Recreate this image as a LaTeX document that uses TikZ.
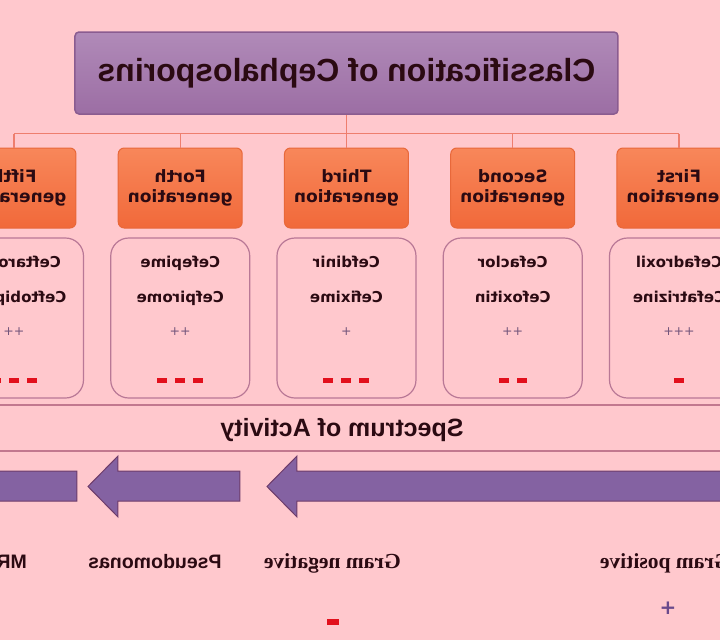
\documentclass[tikz,border=0pt]{standalone}
\usepackage{fontspec}
\setmainfont{Liberation Sans}
\newfontfamily\dejavu{DejaVu Sans}
\newfontfamily\timesface{Liberation Serif}
\usetikzlibrary{calc}

\definecolor{bgpink}{HTML}{FFC8CD}
\definecolor{titletop}{HTML}{B08AB8}
\definecolor{titlebot}{HTML}{9C6EA4}
\definecolor{titleline}{HTML}{8A5C90}
\definecolor{gentop}{HTML}{F8875A}
\definecolor{genbot}{HTML}{F1693A}
\definecolor{genline}{HTML}{E8683A}
\definecolor{linkline}{HTML}{EE7E6E}
\definecolor{boxline}{HTML}{B97896}
\definecolor{bandline}{HTML}{C2788F}
\definecolor{arrowfill}{HTML}{8462A2}
\definecolor{arrowline}{HTML}{6E3C6A}
\definecolor{inktext}{HTML}{2B0A12}
\definecolor{plusink}{HTML}{74567C}
\definecolor{bigplus}{HTML}{6A4A8C}
\definecolor{minusred}{HTML}{E2101C}

\newcommand\minusbar{\textcolor{minusred}{\rule{10pt}{5pt}}}
\newcommand\minusrow[1]{\ifcase#1\or\minusbar\or\minusbar\hspace{8pt}\minusbar\else\minusbar\hspace{8pt}\minusbar\hspace{8pt}\minusbar\fi}

\tikzset{
  titlebox/.style={draw=titleline, line width=1.5pt, top color=titletop, bottom color=titlebot,
    rounded corners=4pt, minimum width=543, minimum height=82, text=inktext,
    font=\bfseries\fontsize{32}{36}\selectfont},
  genbox/.style={draw=genline, line width=1pt, top color=gentop, bottom color=genbot,
    rounded corners=6pt, minimum width=124, minimum height=80, align=center, text=inktext,
    font=\dejavu\bfseries\fontsize{17}{20}\selectfont},
  drugbox/.style={draw=boxline, line width=1.2pt, fill=bgpink, rounded corners=18pt,
    minimum width=139, minimum height=160},
  drugname/.style={anchor=base, text=inktext, font=\dejavu\bfseries\fontsize{15}{18}\selectfont},
  plusmark/.style={text=plusink, font=\dejavu\fontsize{12.5}{14}\selectfont},
  link/.style={draw=linkline, line width=1.3pt},
  band/.style={draw=bandline, line width=2pt},
  bandtext/.style={text=inktext, font=\bfseries\fontsize{25}{28}\selectfont},
  blockarrow/.style={fill=arrowfill, draw=arrowline, line width=1pt},
  gramtext/.style={text=inktext, inner xsep=0pt, font=\timesface\bfseries\fontsize{21.5}{24}\selectfont},
  groupname/.style={text=inktext, inner xsep=0pt, font=\bfseries\fontsize{19.5}{22}\selectfont}
}

\begin{document}
\begin{tikzpicture}[x=1pt, y=-1pt, xscale=-1, transform shape]
  \useasboundingbox (0,0) rectangle (720,640);
  \fill[bgpink] (0,0) rectangle (720,640);
  \clip (0,0) rectangle (720,640);

  % heading and the five generations
  \node[titlebox] (head) at (373.5,73) {Classification of Cephalosporins};
  \foreach \gname/\drugA/\drugB/\plus/\minus [count=\i] in
     {First/Cefadroxil/Cefatrizine/{+++}/1, Second/Cefaclor/Cefoxitin/{++}/2,
      Third/Cefdinir/Cefixime/{+}/3, Forth/Cefepime/Cefpirome/{++}/3,
      Fifth/Ceftaroline/Ceftobiprole/{++}/3}
  {
    \pgfmathsetmacro\gx{41+166.25*(\i-1)}
    \node[genbox] (gen\i) at (\gx,188) {\gname\\generation};
    \node[drugbox] (drugs\i) at (\gx,318) {};
    \node[drugname] (drugA\i) at (\gx,267) {\drugA};
    \node[drugname] (drugB\i) at (\gx,302) {\drugB};
    \node[plusmark] (plus\i) at (\gx,332) {\plus};
    \node (minus\i) at (\gx,380) {\minusrow{\minus}};
  }

  \draw[link] (head.south) -- ++(0,19) coordinate (hub);
  \draw[link] (gen1.north |- hub) -- (gen5.north |- hub);
  \foreach \i in {1,...,5}
    \draw[link] (gen\i.north |- hub) -- (gen\i.north);

  % spectrum band
  \draw[band] (0,405) -- (720,405);
  \draw[band] (0,451) -- (720,451);
  \node[bandtext] (spectrum) at (378,430) {Spectrum of Activity};

  \foreach \tail/\base/\tip in {-20/423/453, 480/602/632, 643/765/795}
    \draw[blockarrow] (\tail,471) -- (\base,471) -- (\base,456) -- (\tip,486.5)
      -- (\base,517) -- (\base,501) -- (\tail,501) -- cycle;

  % organisms
  \node[gramtext, anchor=base east] (gpos) at (120,568) {Gram positive};
  \node[gramtext, anchor=base] (gneg) at (387.5,568) {Gram negative};
  \node[groupname, anchor=base] (pseudo) at (565,568) {Pseudomonas};
  \node[groupname, anchor=base west] (mrsa) at (693,568) {MRSA};
  \node[text=bigplus, font=\dejavu\bfseries\fontsize{20}{22}\selectfont] (gplus) at (52,608) {+};
  \node (gminus) at (387,622) {\textcolor{minusred}{\rule{12pt}{6pt}}};
\end{tikzpicture}
\end{document}
